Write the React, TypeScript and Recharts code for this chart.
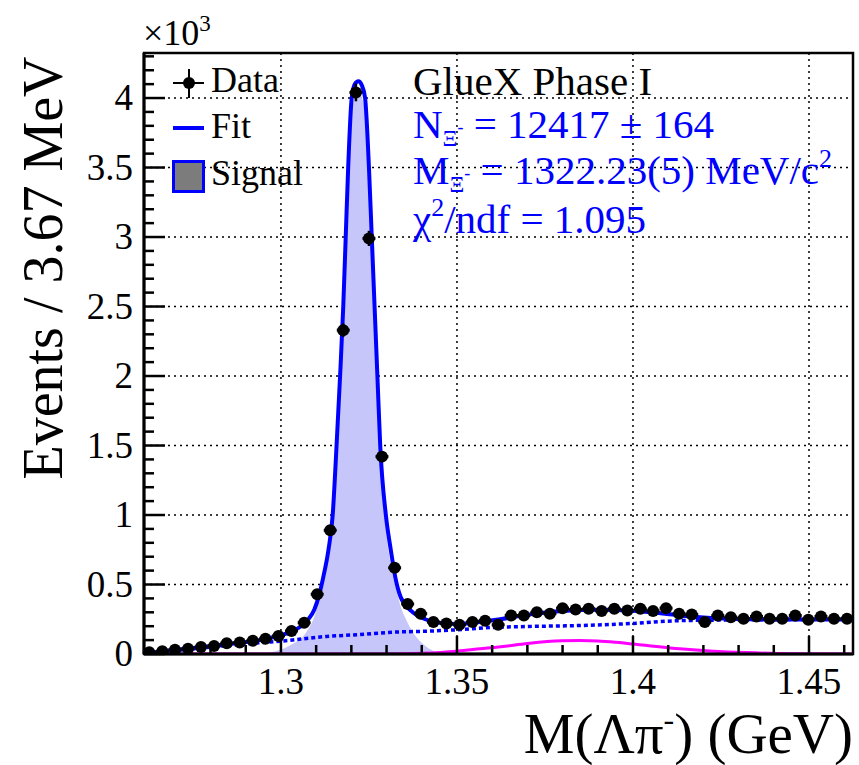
import {
  ComposedChart,
  XAxis,
  YAxis,
  CartesianGrid,
  Line,
  Area,
  Scatter,
  ErrorBar,
  ReferenceArea,
} from "recharts";

const FONT = "'Liberation Serif', 'Times New Roman', serif";
const BLUE = "#0000ff";
const MAGENTA = "#ff00ff";
const SIGNAL_FILL = "#c6c6fb";

const X_MIN = 1.2611;
const X_MAX = 1.4625;
const Y_MAX = 4.324;

// data histogram (x10^3 events per 3.67 MeV bin)
const binCenters = [
  1.2626, 1.2663, 1.2699, 1.2736, 1.2773, 1.281, 1.2846, 1.2883, 1.292, 1.2956,
  1.2993, 1.303, 1.3066, 1.3103, 1.314, 1.3177, 1.3213, 1.325, 1.3287, 1.3323,
  1.336, 1.3397, 1.3433, 1.347, 1.3507, 1.3544, 1.358, 1.3617, 1.3654, 1.369,
  1.3727, 1.3764, 1.38, 1.3837, 1.3874, 1.3911, 1.3947, 1.3984, 1.4021, 1.4057,
  1.4094, 1.4131, 1.4167, 1.4204, 1.4241, 1.4278, 1.4314, 1.4351, 1.4388, 1.4424,
  1.4461, 1.4498, 1.4534, 1.4571, 1.4608,
];
const counts = [
  0.012, 0.02, 0.03, 0.037, 0.05, 0.058, 0.078, 0.082, 0.095, 0.109,
  0.13, 0.166, 0.225, 0.43, 0.89, 2.33, 4.04, 2.99, 1.42, 0.62,
  0.36, 0.29, 0.23, 0.22, 0.21, 0.23, 0.24, 0.21, 0.277, 0.277,
  0.3, 0.29, 0.33, 0.32, 0.325, 0.31, 0.325, 0.313, 0.325, 0.31,
  0.33, 0.29, 0.284, 0.23, 0.277, 0.265, 0.253, 0.27, 0.253, 0.253,
  0.277, 0.246, 0.27, 0.253, 0.253,
];
const countErrors = [
  0.0035, 0.0045, 0.0055, 0.006, 0.007, 0.0076, 0.0088, 0.009, 0.0097, 0.0104,
  0.0114, 0.0129, 0.015, 0.0207, 0.0298, 0.048, 0.0636, 0.0547, 0.0377, 0.0249,
  0.019, 0.017, 0.015, 0.015, 0.0145, 0.015, 0.0155, 0.0145, 0.0166, 0.0166,
  0.0173, 0.017, 0.0182, 0.0179, 0.018, 0.0176, 0.018, 0.0177, 0.018, 0.0176,
  0.0182, 0.017, 0.0169, 0.015, 0.0166, 0.0163, 0.0159, 0.0164, 0.0159, 0.0159,
  0.0166, 0.0157, 0.0164, 0.0159, 0.0159,
];
const HALF_BIN = 0.001835;

// total fit
const fitX = [
  1.2611, 1.2666, 1.2761, 1.2855, 1.295, 1.3, 1.3045, 1.3075, 1.3095, 1.3108,
  1.312, 1.3135, 1.3147, 1.3158, 1.3168, 1.3177, 1.3184, 1.3191, 1.3201, 1.321,
  1.322, 1.323, 1.3239, 1.325, 1.3258, 1.3266, 1.3274, 1.3282, 1.3298, 1.3312,
  1.3325, 1.334, 1.337, 1.341, 1.345, 1.35, 1.3565, 1.3622, 1.3707, 1.38,
  1.39, 1.4, 1.409, 1.418, 1.428, 1.442, 1.4625,
];
const fitY = [
  0.003, 0.02, 0.045, 0.073, 0.105, 0.135, 0.18, 0.24, 0.32, 0.42,
  0.55, 0.75, 1.0, 1.5, 2.0, 2.5, 3.0, 3.5, 4.0, 4.1,
  4.12, 4.09, 4.0, 3.5, 3.0, 2.5, 2.0, 1.5, 1.0, 0.75,
  0.55, 0.41, 0.31, 0.25, 0.225, 0.215, 0.23, 0.25, 0.285, 0.31,
  0.318, 0.312, 0.29, 0.267, 0.253, 0.248, 0.248,
];

// background (dotted)
const bgX = [
  1.2611, 1.2666, 1.2761, 1.2855, 1.295, 1.2997, 1.313, 1.3224, 1.3319, 1.3414,
  1.3499, 1.3594, 1.37, 1.3849, 1.4, 1.4133, 1.43, 1.4418, 1.4625,
];
const bgY = [
  0.0, 0.018, 0.04, 0.063, 0.083, 0.092, 0.126, 0.14, 0.157, 0.164,
  0.174, 0.19, 0.198, 0.205, 0.22, 0.24, 0.245, 0.247, 0.253,
];

// second bump (magenta)
const bumpX = [
  1.2611, 1.33, 1.34, 1.35, 1.3565, 1.365, 1.3707, 1.38, 1.385, 1.39,
  1.395, 1.404, 1.4133, 1.4228, 1.4323, 1.445, 1.4625,
];
const bumpY = [
  0, 0, 0.005, 0.02, 0.037, 0.06, 0.078, 0.095, 0.097, 0.094,
  0.085, 0.061, 0.037, 0.02, 0.01, 0.002, 0,
];

// signal (filled)
const signalX = [
  1.295, 1.2985, 1.3035, 1.307, 1.3095, 1.311, 1.3125, 1.314, 1.315, 1.316,
  1.317, 1.3178, 1.3185, 1.3192, 1.3202, 1.3212, 1.3221, 1.323, 1.324, 1.325,
  1.3258, 1.3266, 1.3274, 1.3282, 1.3298, 1.3315, 1.3329, 1.3338, 1.3357, 1.3385,
  1.3414, 1.3442, 1.346,
];
const signalY = [
  0, 0.02, 0.075, 0.15, 0.27, 0.4, 0.55, 0.78, 1.0, 1.45,
  1.95, 2.45, 2.95, 3.45, 3.9, 4.02, 4.05, 4.0, 3.88, 3.4,
  2.9, 2.4, 1.9, 1.4, 0.9, 0.6, 0.45, 0.36, 0.24, 0.12,
  0.05, 0.013, 0,
];

const xMajorTicks = [1.3, 1.35, 1.4, 1.45];
const xTickLabels = ["1.3", "1.35", "1.4", "1.45"];
const xMinorTicks = [1.27, 1.28, 1.29, 1.31, 1.32, 1.33, 1.34, 1.36, 1.37, 1.38, 1.39, 1.41, 1.42, 1.43, 1.44, 1.46];
const yMajorTicks = [0, 0.5, 1, 1.5, 2, 2.5, 3, 3.5, 4];
const yTickLabels = ["0", "0.5", "1", "1.5", "2", "2.5", "3", "3.5", "4"];
const yAllTicks = Array.from({ length: 44 }, (_, i) => +(i * 0.1).toFixed(1));

const points = binCenters.map((x, i) => ({ x, y: counts[i], ey: countErrors[i], ex: HALF_BIN }));
const fitData = fitX.map((x, i) => ({ x, y: fitY[i] }));
const bgData = bgX.map((x, i) => ({ x, y: bgY[i] }));
const bumpData = bumpX.map((x, i) => ({ x, y: bumpY[i] }));
const signalData = signalX.map((x, i) => ({ x, y: signalY[i] }));

const xTicks = [...xMajorTicks, ...xMinorTicks].sort((a, b) => a - b);

function XTick({ x, y, payload }: any) {
  const i = xMajorTicks.findIndex((m) => Math.abs(m - payload.value) < 1e-6);
  const len = i >= 0 ? 18 : 9;
  return (
    <g>
      <line x1={x} x2={x} y1={y} y2={y - len} stroke="#000" strokeWidth={2.5} />
      {i >= 0 && (
        <text x={x} y={y + 40} textAnchor="middle" fontFamily={FONT} fontSize={37} fill="#000">
          {xTickLabels[i]}
        </text>
      )}
    </g>
  );
}

function YTick({ x, y, payload }: any) {
  const i = yMajorTicks.findIndex((m) => Math.abs(m - payload.value) < 1e-6);
  const len = i >= 0 ? 21 : 10;
  return (
    <g>
      <line x1={x} x2={x + len} y1={y} y2={y} stroke="#000" strokeWidth={2.5} />
      {i >= 0 && (
        <text x={x - 11} y={y + 12} textAnchor="end" fontFamily={FONT} fontSize={37} fill="#000">
          {yTickLabels[i]}
        </text>
      )}
    </g>
  );
}

const Dot = (props: any) => <circle cx={props.cx} cy={props.cy} r={6} fill="#000" />;

export default function App() {
  return (
    <div style={{ position: "absolute", left: 0, top: 0, width: 859, height: 765, background: "#fff" }}>
      <ComposedChart width={859} height={765} margin={{ top: 53, right: 6, bottom: 51, left: 44 }}>
        <CartesianGrid
          stroke="#000"
          strokeWidth={1.5}
          strokeDasharray="2 4"
          verticalValues={xMajorTicks}
          horizontalValues={yMajorTicks.slice(1)}
        />
        <XAxis
          type="number"
          dataKey="x"
          domain={[X_MIN, X_MAX]}
          allowDataOverflow
          ticks={xTicks}
          interval={0}
          tick={<XTick />}
          tickSize={0}
          tickMargin={0}
          tickLine={false}
          height={60}
          axisLine={{ stroke: "#000", strokeWidth: 3 }}
        />
        <YAxis
          type="number"
          domain={[0, Y_MAX]}
          allowDataOverflow
          ticks={yAllTicks}
          interval={0}
          tick={<YTick />}
          tickSize={0}
          tickMargin={0}
          tickLine={false}
          width={100}
          axisLine={{ stroke: "#000", strokeWidth: 3 }}
        />
        <Area
          data={signalData}
          dataKey="y"
          type="monotone"
          fill={SIGNAL_FILL}
          fillOpacity={1}
          stroke="none"
          isAnimationActive={false}
        />
        <Line
          data={bgData}
          dataKey="y"
          type="monotone"
          stroke={BLUE}
          strokeWidth={3.5}
          strokeDasharray="4 3"
          dot={false}
          isAnimationActive={false}
        />
        <Line
          data={bumpData}
          dataKey="y"
          type="monotone"
          stroke={MAGENTA}
          strokeWidth={3}
          dot={false}
          isAnimationActive={false}
        />
        <Line
          data={fitData}
          dataKey="y"
          type="monotone"
          stroke={BLUE}
          strokeWidth={4}
          dot={false}
          isAnimationActive={false}
        />
        <Scatter data={points} dataKey="y" shape={Dot} isAnimationActive={false}>
          <ErrorBar dataKey="ey" direction="y" width={0} stroke="#000" strokeWidth={2.5} />
          <ErrorBar dataKey="ex" direction="x" width={0} stroke="#000" strokeWidth={3} />
        </Scatter>
        <ReferenceArea x1={X_MIN} x2={X_MAX} y1={0} y2={Y_MAX} fill="none" stroke="#000" strokeWidth={2.5} />
      </ComposedChart>

      <svg width={859} height={765} style={{ position: "absolute", left: 0, top: 0, pointerEvents: "none" }}>
        <g fontFamily={FONT}>
          <text x={143} y={45} fontSize={36} fill="#000">
            ×10<tspan dy={-14} fontSize={23}>3</tspan>
          </text>

          {/* legend */}
          <line x1={173} x2={204} y1={83} y2={83} stroke="#000" strokeWidth={2} />
          <line x1={189} x2={189} y1={69} y2={98} stroke="#000" strokeWidth={2} />
          <circle cx={189} cy={83} r={6} fill="#000" />
          <text x={211} y={92} fontSize={36} fill="#000">Data</text>
          <line x1={173} x2={204} y1={128} y2={128} stroke={BLUE} strokeWidth={4} />
          <text x={211} y={138} fontSize={36} fill="#000">Fit</text>
          <rect x={173.5} y={161.5} width={30} height={30} fill="#7c7c7c" stroke={BLUE} strokeWidth={3} />
          <text x={211} y={185} fontSize={36} fill="#000">Signal</text>

          {/* fit results */}
          <text x={413} y={95} fontSize={41} fill="#000">GlueX Phase I</text>
          <text x={413} y={138} fontSize={41} fill={BLUE}>
            N<tspan fontSize={23} dy={8}>Ξ</tspan>
            <tspan fontSize={18} dy={-13}>-</tspan>
            <tspan dy={5}> = 12417 ± 164</tspan>
          </text>
          <text x={413} y={184} fontSize={41} fill={BLUE}>
            M<tspan fontSize={23} dy={8}>Ξ</tspan>
            <tspan fontSize={18} dy={-13}>-</tspan>
            <tspan dy={5}> = 1322.23(5) MeV/c</tspan>
            <tspan fontSize={26} dy={-17}>2</tspan>
          </text>
          <text x={413} y={233} fontSize={41} fill={BLUE}>
            χ<tspan fontSize={26} dy={-17}>2</tspan>
            <tspan dy={17}>/ndf = 1.095</tspan>
          </text>

          {/* axis titles */}
          <text
            x={0}
            y={0}
            transform="translate(62,268) rotate(-90)"
            textAnchor="middle"
            fontSize={56}
            fill="#000"
          >
            Events / 3.67 MeV
          </text>
          <text x={853} y={753} textAnchor="end" fontSize={57} fill="#000">
            M(Λπ<tspan fontSize={32} dy={-23}>-</tspan>
            <tspan dy={23}>) (GeV)</tspan>
          </text>
        </g>
      </svg>
    </div>
  );
}
